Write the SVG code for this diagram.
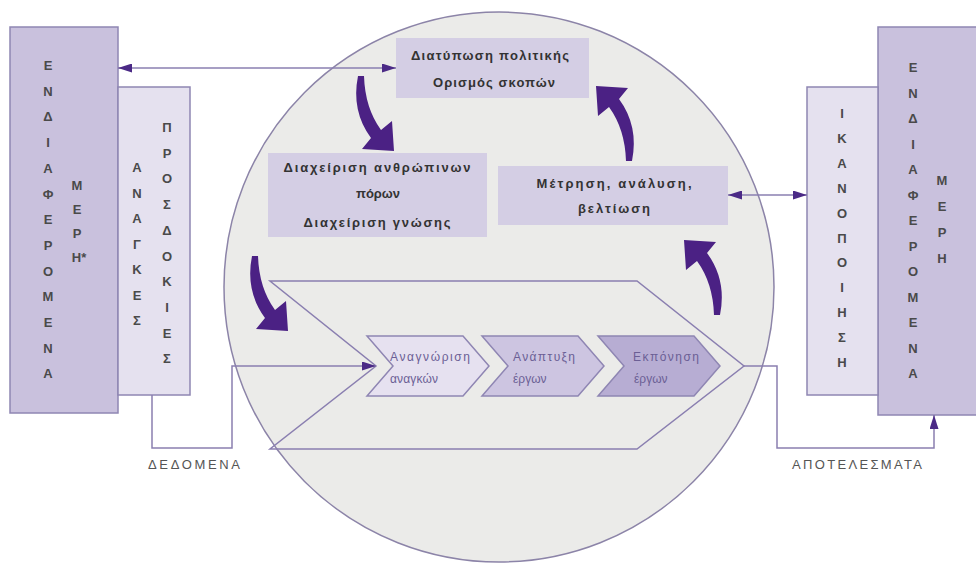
<svg xmlns="http://www.w3.org/2000/svg" width="976" height="566" viewBox="0 0 976 566">
<style>
.outer{fill:#c9c1dd;stroke:#8f86b3;stroke-width:1.5}
.inner{fill:#e5e1ef;stroke:#8f86b3;stroke-width:1.5}
.box{fill:#d4cee4}
.v{font-family:"Liberation Sans",Arial,sans-serif;font-size:13px;font-weight:bold;fill:#4a4a4a;text-anchor:middle;dominant-baseline:central}
.bt{font-family:"Liberation Sans",Arial,sans-serif;font-size:13px;font-weight:bold;fill:#333;text-anchor:middle}
.ct{font-family:"Liberation Sans",Arial,sans-serif;font-size:12px;fill:#6b5f95}
.lbl{font-family:"Liberation Sans",Arial,sans-serif;font-size:13px;fill:#555}
.conn{fill:none;stroke:#8a7fb0;stroke-width:1.5}
.big{fill:#4b2184}
.chev{stroke:#8f86b3;stroke-width:1.5}
</style>
<defs>
<marker id="ah" viewBox="0 0 14 9" markerUnits="userSpaceOnUse" markerWidth="14" markerHeight="9" refX="14" refY="4.5" orient="auto-start-reverse">
<path d="M0,0 L14,4.5 L0,9 Z" fill="#4b2a86"/>
</marker>
<path id="curv" d="M-2,0 Q-9,35 11,62 L2,73 L34,75 L32,45 L21,54 Q5,32 4,0 Z"/>
</defs>

<g id="left-stakeholders">
<rect class="outer" x="10" y="27" width="108" height="386"/>
<text class="v"><tspan x="48" y="65">Ε</tspan><tspan x="48" y="90.7">Ν</tspan><tspan x="48" y="116.4">Δ</tspan><tspan x="48" y="142.1">Ι</tspan><tspan x="48" y="167.8">Α</tspan><tspan x="48" y="193.5">Φ</tspan><tspan x="48" y="219.2">Ε</tspan><tspan x="48" y="244.9">Ρ</tspan><tspan x="48" y="270.6">Ο</tspan><tspan x="48" y="296.3">Μ</tspan><tspan x="48" y="322">Ε</tspan><tspan x="48" y="347.7">Ν</tspan><tspan x="48" y="373.4">Α</tspan></text>
<text class="v"><tspan x="77" y="185">Μ</tspan><tspan x="77" y="209">Ε</tspan><tspan x="77" y="233">Ρ</tspan><tspan x="79" y="257">Η*</tspan></text>
</g>

<g id="left-needs">
<rect class="inner" x="118" y="87" width="72" height="308"/>
<text class="v"><tspan x="137" y="167">Α</tspan><tspan x="137" y="192.5">Ν</tspan><tspan x="137" y="218">Α</tspan><tspan x="137" y="243.5">Γ</tspan><tspan x="137" y="269">Κ</tspan><tspan x="137" y="294.5">Ε</tspan><tspan x="137" y="320">Σ</tspan></text>
<text class="v"><tspan x="167" y="127">Π</tspan><tspan x="167" y="152.7">Ρ</tspan><tspan x="167" y="178.4">Ο</tspan><tspan x="167" y="204.1">Σ</tspan><tspan x="167" y="229.8">Δ</tspan><tspan x="167" y="255.5">Ο</tspan><tspan x="167" y="281.2">Κ</tspan><tspan x="167" y="306.9">Ι</tspan><tspan x="167" y="332.6">Ε</tspan><tspan x="167" y="358.3">Σ</tspan></text>
</g>

<g id="right-stakeholders">
<rect class="outer" x="878" y="27" width="110" height="388"/>
<text class="v"><tspan x="913" y="67">Ε</tspan><tspan x="913" y="92.5">Ν</tspan><tspan x="913" y="118">Δ</tspan><tspan x="913" y="143.5">Ι</tspan><tspan x="913" y="169">Α</tspan><tspan x="913" y="194.5">Φ</tspan><tspan x="913" y="220">Ε</tspan><tspan x="913" y="245.5">Ρ</tspan><tspan x="913" y="271">Ο</tspan><tspan x="913" y="296.5">Μ</tspan><tspan x="913" y="322">Ε</tspan><tspan x="913" y="347.5">Ν</tspan><tspan x="913" y="373">Α</tspan></text>
<text class="v"><tspan x="942" y="180">Μ</tspan><tspan x="942" y="206">Ε</tspan><tspan x="942" y="232">Ρ</tspan><tspan x="942" y="258">Η</tspan></text>
</g>

<g id="right-satisfaction">
<rect class="inner" x="807" y="87" width="71" height="308"/>
<text class="v"><tspan x="842" y="113">Ι</tspan><tspan x="842" y="137.9">Κ</tspan><tspan x="842" y="162.8">Α</tspan><tspan x="842" y="187.7">Ν</tspan><tspan x="842" y="212.6">Ο</tspan><tspan x="842" y="237.5">Π</tspan><tspan x="842" y="262.4">Ο</tspan><tspan x="842" y="287.3">Ι</tspan><tspan x="842" y="312.2">Η</tspan><tspan x="842" y="337.1">Σ</tspan><tspan x="842" y="362">Η</tspan></text>
</g>

<g id="organisation">
<circle cx="499" cy="287" r="275" fill="#ebebe9" stroke="#8c84a8" stroke-width="1.5"/>
</g>

<g id="policy">
<rect class="box" x="396" y="38" width="193" height="60"/>
<text class="bt" x="490" y="60" textLength="158" lengthAdjust="spacing">Διατύπωση πολιτικής</text>
<text class="bt" x="494" y="87" textLength="122" lengthAdjust="spacing">Ορισμός σκοπών</text>
</g>

<g id="management">
<rect class="box" x="268" y="153" width="219" height="84"/>
<text class="bt" x="377" y="172" textLength="187" lengthAdjust="spacing">Διαχείριση ανθρώπινων</text>
<text class="bt" x="378" y="198">πόρων</text>
<text class="bt" x="377" y="227" textLength="147" lengthAdjust="spacing">Διαχείριση γνώσης</text>
</g>

<g id="measurement">
<rect class="box" x="498" y="166" width="230" height="59"/>
<text class="bt" x="614" y="188" textLength="155" lengthAdjust="spacing">Μέτρηση, ανάλυση,</text>
<text class="bt" x="614" y="213" textLength="72" lengthAdjust="spacing">βελτίωση</text>
</g>

<g id="process">
<polygon class="conn" points="270,281 637,281 744,366 637,449 270,449 376,366"/>
</g>

<g id="step1">
<polygon class="chev" fill="#e6e1f0" points="367,336 463,336 489,366 463,396 367,396 393,366"/>
<text class="ct" x="390" y="361" textLength="80" lengthAdjust="spacing">Αναγνώριση</text>
<text class="ct" x="390" y="383" textLength="48" lengthAdjust="spacing">αναγκών</text>
</g>
<g id="step2">
<polygon class="chev" fill="#cdc5e1" points="482,336 578,336 604,366 578,396 482,396 508,366"/>
<text class="ct" x="513" y="361" textLength="62" lengthAdjust="spacing">Ανάπτυξη</text>
<text class="ct" x="513" y="383">έργων</text>
</g>
<g id="step3">
<polygon class="chev" fill="#b7add3" points="598,336 694,336 720,366 694,396 598,396 624,366"/>
<text class="ct" x="633" y="361" textLength="66" lengthAdjust="spacing">Εκπόνηση</text>
<text class="ct" x="634" y="383">έργων</text>
</g>

<g id="connectors">
<path class="conn" d="M118,68 H396" marker-start="url(#ah)" marker-end="url(#ah)"/>
<path class="conn" d="M728,195 H807" marker-start="url(#ah)" marker-end="url(#ah)"/>
<path class="conn" d="M152,395 V448 H232 V366 H376" marker-end="url(#ah)"/>
<path class="conn" d="M744,366 H777 V448 H934 V415" marker-end="url(#ah)"/>
<use href="#curv" class="big" transform="translate(360,76)"/>
<use href="#curv" class="big" transform="translate(254,256)"/>
<use href="#curv" class="big" transform="translate(718,315) rotate(180)"/>
<use href="#curv" class="big" transform="translate(630,161) rotate(180)"/>
<text class="lbl" x="148" y="469" textLength="92" lengthAdjust="spacing">ΔΕΔΟΜΕΝΑ</text>
<text class="lbl" x="792" y="469" textLength="130" lengthAdjust="spacing">ΑΠΟΤΕΛΕΣΜΑΤΑ</text>
</g>
</svg>
